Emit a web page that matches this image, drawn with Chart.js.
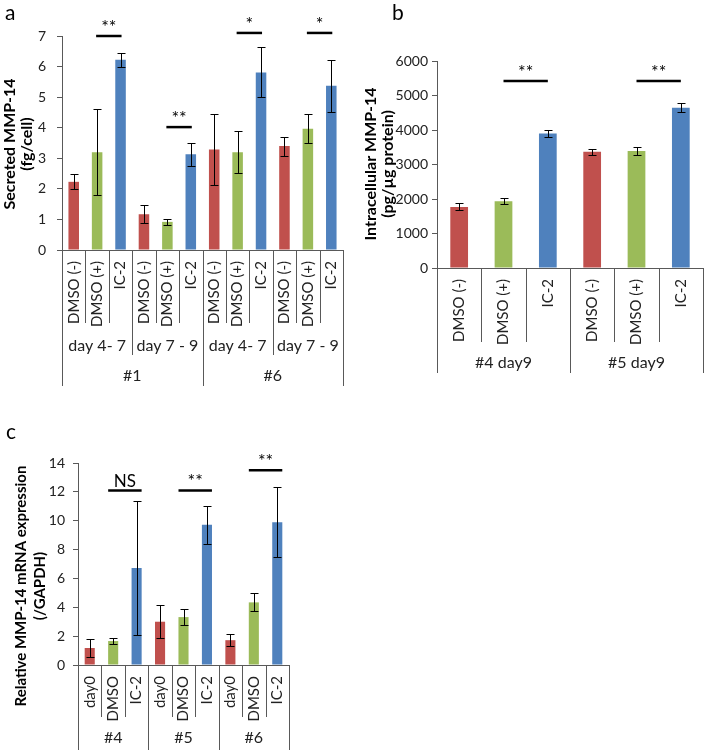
<!DOCTYPE html>
<html>
<head>
<meta charset="utf-8">
<script src="https://cdn.jsdelivr.net/npm/chart.js@4.4.1/dist/chart.umd.min.js"></script>
<style>
  body { margin: 0; background: #fff; }
  #wrap { position: relative; width: 705px; height: 750px; overflow: hidden; }
  #wrap canvas { position: absolute; }
  .letter { position: absolute; font-family: Lato, sans-serif; font-size: 21px; line-height: 21px; color: #000; }
</style>
</head>
<body>
<div id="wrap">
  <canvas id="chartA" width="355" height="400" style="left:0;top:0"></canvas>
  <canvas id="chartB" width="350" height="400" style="left:355px;top:0"></canvas>
  <canvas id="chartC" width="355" height="330" style="left:0;top:420px"></canvas>
  <div class="letter" style="left:5px;top:1px">a</div>
  <div class="letter" style="left:392px;top:1px">b</div>
  <div class="letter" style="left:6px;top:420px">c</div>
</div>
<script>
// bar colours (Excel style red / green / blue)
const barColors = ['#C0504D', '#9BBB59', '#4F81BD'];
const axisColor = '#595959';
const textColor = '#222';

// panel a - secreted MMP-14
const aLabels = ['DMSO (-)', 'DMSO (+)', 'IC-2', 'DMSO (-)', 'DMSO (+)', 'IC-2',
                 'DMSO (-)', 'DMSO (+)', 'IC-2', 'DMSO (-)', 'DMSO (+)', 'IC-2'];
const aDays = ['day 4- 7', 'day 7 - 9', 'day 4- 7', 'day 7 - 9'];
const aClones = ['#1', '#6'];
const aValues = [2.23, 3.2, 6.22, 1.17, 0.92, 3.13, 3.29, 3.2, 5.81, 3.4, 3.97, 5.37];
const aErrors = [0.25, 1.4, 0.24, 0.3, 0.11, 0.37, 1.15, 0.68, 0.82, 0.31, 0.48, 0.86];
const aSigPairs = [[1, 2], [4, 5], [7, 8], [10, 11]];
const aSigLevels = [7.0, 4.02, 7.1, 7.1];
const aSigMarks = ['**', '**', '*', '*'];

// panel b - intracellular MMP-14
const bLabels = ['DMSO (-)', 'DMSO (+)', 'IC-2', 'DMSO (-)', 'DMSO (+)', 'IC-2'];
const bGroups = ['#4 day9', '#5 day9'];
const bValues = [1770, 1935, 3900, 3370, 3390, 4645];
const bErrors = [100, 90, 100, 90, 115, 135];
const bSigPairs = [[1, 2], [4, 5]];
const bSigLevels = [5420, 5420];
const bSigMarks = ['**', '**'];

// panel c - relative mRNA expression
const cLabels = ['day0', 'DMSO', 'IC-2', 'day0', 'DMSO', 'IC-2', 'day0', 'DMSO', 'IC-2'];
const cGroups = ['#4', '#5', '#6'];
const cValues = [1.18, 1.66, 6.73, 3.0, 3.32, 9.72, 1.72, 4.34, 9.89];
const cErrors = [0.6, 0.18, 4.62, 1.14, 0.57, 1.31, 0.42, 0.62, 2.43];
const cSigPairs = [[1, 2], [4, 5], [7, 8]];
const cSigLevels = [12.1, 12.1, 13.5];
const cSigMarks = ['NS', '**', '**'];

// error bars, significance lines, grouped axis labels and the y title
function panelExtras(spec) {
  return {
    id: 'panelExtras',
    afterDraw(chart) {
      const ctx = chart.ctx;
      const xs = chart.scales.x, ys = chart.scales.y;
      const bars = chart.getDatasetMeta(0).data;
      ctx.save();

      ctx.strokeStyle = '#000';
      ctx.lineWidth = 1;
      bars.forEach((bar, i) => {
        const v = spec.values[i], e = spec.errors[i];
        const top = Math.round(ys.getPixelForValue(v + e)) + 0.5;
        const bot = Math.round(ys.getPixelForValue(v - e)) + 0.5;
        const cx = Math.round(bar.x) + 0.5;
        ctx.beginPath();
        ctx.moveTo(cx, top); ctx.lineTo(cx, bot);
        ctx.moveTo(cx - 4, top); ctx.lineTo(cx + 4, top);
        ctx.moveTo(cx - 4, bot); ctx.lineTo(cx + 4, bot);
        ctx.stroke();
      });

      ctx.lineWidth = 2.5;
      ctx.fillStyle = '#000';
      ctx.textAlign = 'center';
      ctx.textBaseline = 'alphabetic';
      spec.sigPairs.forEach((p, k) => {
        const x1 = bars[p[0]].x - spec.sigPad, x2 = bars[p[1]].x + spec.sigPad;
        const ly = ys.getPixelForValue(spec.sigLevels[k]);
        ctx.beginPath();
        ctx.moveTo(x1, ly); ctx.lineTo(x2, ly);
        ctx.stroke();
        ctx.font = spec.sigMarks[k] === 'NS' ? '17px Lato' : '18px Lato';
        ctx.fillText(spec.sigMarks[k], (x1 + x2) / 2, ly - 3);
      });

      // multi level category axis
      const n = spec.labels.length;
      const w = (xs.right - xs.left) / n;
      const base = ys.bottom;
      ctx.strokeStyle = axisColor;
      ctx.lineWidth = 1;
      for (let i = 0; i <= n; i++) {
        let depth = spec.tickDepth;
        spec.levels.forEach(l => { if (i % l.span === 0) depth = l.lineTo; });
        const px = Math.round(xs.left + i * w) + 0.5;
        ctx.beginPath();
        ctx.moveTo(px, base); ctx.lineTo(px, base + depth);
        ctx.stroke();
      }
      ctx.fillStyle = textColor;
      ctx.font = '16px Lato';
      ctx.textBaseline = 'middle';
      spec.levels.forEach(l => {
        l.labels.forEach((t, j) => {
          ctx.fillText(t, xs.left + (j + 0.5) * l.span * w, base + l.textY);
        });
      });

      // y axis title
      ctx.translate(spec.titleX, spec.titleY);
      ctx.rotate(-Math.PI / 2);
      ctx.font = 'bold ' + spec.titleSize + 'px Lato';
      ctx.fillStyle = '#000';
      spec.title.forEach((line, k) => ctx.fillText(line, 0, k * spec.titleGap));
      ctx.restore();
    }
  };
}

function buildChart(id, spec) {
  const g = spec.box;
  return new Chart(document.getElementById(id), {
    type: 'bar',
    data: {
      labels: spec.labels,
      datasets: [{
        data: spec.values,
        backgroundColor: spec.labels.map((_, i) => barColors[i % 3]),
        categoryPercentage: 1,
        barPercentage: spec.barPct
      }]
    },
    options: {
      responsive: false,
      animation: false,
      devicePixelRatio: 1,
      layout: { padding: { left: 0, top: g.top, right: g.right, bottom: 0 } },
      plugins: { legend: { display: false }, tooltip: { enabled: false } },
      scales: {
        x: {
          grid: { display: false, drawTicks: false },
          border: { color: axisColor },
          ticks: {
            autoSkip: false, minRotation: 90, maxRotation: 90, padding: 11,
            color: textColor, font: { family: 'Lato', size: 15 }
          },
          afterFit: s => { s.height = g.xh; s.paddingLeft = 0; s.paddingRight = 0; }
        },
        y: {
          min: 0, max: spec.max,
          ticks: {
            stepSize: spec.step, padding: spec.tickPad, color: textColor,
            font: { family: 'Lato', size: 14 }, callback: v => String(v)
          },
          grid: { drawOnChartArea: false, tickLength: 5, color: axisColor },
          border: { color: axisColor },
          afterFit: s => { s.width = g.yw; }
        }
      }
    },
    plugins: [panelExtras(spec)]
  });
}

buildChart('chartA', {
  labels: aLabels, values: aValues, errors: aErrors,
  sigPairs: aSigPairs, sigLevels: aSigLevels, sigMarks: aSigMarks, sigPad: 1,
  max: 7, step: 1, tickPad: 11, barPct: 0.45,
  box: { top: 36, right: 12, yw: 62, xh: 150 },
  tickDepth: 73,
  levels: [
    { labels: aDays, span: 3, lineTo: 105, textY: 96 },
    { labels: aClones, span: 6, lineTo: 136, textY: 126 }
  ],
  title: ['Secreted MMP-14', '(fg/cell)'], titleSize: 16, titleX: 10, titleY: 144, titleGap: 17
});

buildChart('chartB', {
  labels: bLabels, values: bValues, errors: bErrors,
  sigPairs: bSigPairs, sigLevels: bSigLevels, sigMarks: bSigMarks, sigPad: 0,
  max: 6000, step: 1000, tickPad: 4, barPct: 0.4,
  box: { top: 61, right: 2, yw: 82, xh: 132 },
  tickDepth: 74,
  levels: [
    { labels: bGroups, span: 3, lineTo: 105, textY: 95 }
  ],
  title: ['Intracellular MMP-14', '(pg/\u00b5g protein)'], titleSize: 16, titleX: 16, titleY: 164, titleGap: 17
});

buildChart('chartC', {
  labels: cLabels, values: cValues, errors: cErrors,
  sigPairs: cSigPairs, sigLevels: cSigLevels, sigMarks: cSigMarks, sigPad: 5,
  max: 14, step: 2, tickPad: 8, barPct: 0.43,
  box: { top: 43, right: 66, yw: 78, xh: 85 },
  tickDepth: 52,
  levels: [
    { labels: cGroups, span: 3, lineTo: 85, textY: 73 }
  ],
  title: ['Relative MMP-14 mRNA expression', '(/GAPDH)'], titleSize: 15, titleX: 21, titleY: 166, titleGap: 19
});
</script>
</body>
</html>
